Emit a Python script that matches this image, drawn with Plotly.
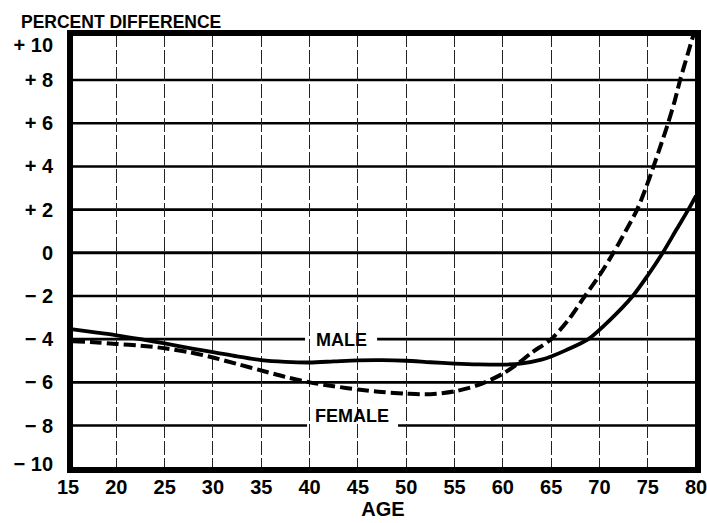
import plotly.graph_objects as go

# ---- data ----
age_male = [15.5, 18, 20, 22.5, 25, 28, 30, 32.5, 35, 37.5, 40, 42.5, 45, 47.5, 50,
            52.5, 55, 57.5, 60, 62, 64, 65, 66.5, 68.85, 71, 73.45, 75, 76.55, 78, 79.2, 80]
pct_male = [-3.55, -3.7, -3.82, -4.0, -4.2, -4.45, -4.6, -4.8, -4.97, -5.05, -5.08, -5.03,
            -4.98, -4.97, -5.0, -5.07, -5.13, -5.17, -5.18, -5.12, -4.95, -4.8, -4.52, -4.0,
            -3.15, -2.0, -1.05, 0.0, 1.1, 2.0, 2.65]

age_female = [15.5, 18, 20, 22.5, 25, 27.5, 30, 32.5, 35, 37.5, 40, 42.5, 45, 47.5, 50,
              52.5, 55, 57.5, 60, 61.5, 63, 65, 66.8, 68.5, 70, 71.45, 72.7, 73.9, 74.8,
              75.6, 76.4, 77.1, 77.8, 78.35, 79.2, 80]
pct_female = [-4.1, -4.15, -4.22, -4.3, -4.42, -4.6, -4.85, -5.15, -5.45, -5.75, -6.0, -6.18,
              -6.33, -6.45, -6.52, -6.55, -6.42, -6.12, -5.6, -5.15, -4.62, -4.0, -3.1, -2.0,
              -1.05, 0.0, 1.0, 2.0, 3.0, 4.0, 5.05, 6.0, 7.05, 8.0, 9.3, 10.5]

x_ticks = [15, 20, 25, 30, 35, 40, 45, 50, 55, 60, 65, 70, 75, 80]
y_ticks = [10, 8, 6, 4, 2, 0, -2, -4, -6, -8, -10]
y_tick_text = ["+ 10", "+ 8", "+ 6", "+ 4", "+ 2", "0", "\u2212 2", "\u2212 4", "\u2212 6", "\u2212 8", "\u2212 10"]
h_lines = [8, 6, 4, 2, 0, -2, -4, -6, -8]

labels = [("MALE", 43.3, -4.06, -4, 39.53, 46.99),
          ("FEMALE", 44.4, -7.54, -8, 39.74, 49.16)]

FONT = "Liberation Sans, Arial, sans-serif"
X_RANGE = [15.0, 80.2]
Y_RANGE = [-10.06, 10.18]

# the end labels (+10 / -10) sit slightly inside the frame in the original
label_nudge = {10: -0.37, -10: 0.2}
y_tick_pos = [v + label_nudge.get(v, 0) for v in y_ticks]

fig = go.Figure()
fig.add_trace(go.Scatter(x=age_male, y=pct_male, mode="lines",
                         line=dict(color="black", width=3.8, shape="spline", smoothing=0.8),
                         showlegend=False, hoverinfo="skip"))
fig.add_trace(go.Scatter(x=age_female, y=pct_female, mode="lines",
                         line=dict(color="black", width=4, dash="12px,5px", shape="spline", smoothing=0.8),
                         showlegend=False, hoverinfo="skip"))

shapes = []
gaps = {lv: (g0, g1) for (_, _, _, lv, g0, g1) in labels}
for yv in h_lines:
    w = 3 if yv == 0 else 2.6
    if yv in gaps:
        g0, g1 = gaps[yv]
        segs = [(X_RANGE[0], g0), (g1, X_RANGE[1])]
    else:
        segs = [(X_RANGE[0], X_RANGE[1])]
    for a, b in segs:
        shapes.append(dict(type="line", xref="x", yref="y", x0=a, x1=b, y0=yv, y1=yv,
                           line=dict(color="black", width=w), layer="below"))
# frame
shapes.append(dict(type="rect", xref="paper", yref="paper", x0=0.0032, x1=1.0, y0=0, y1=1,
                   line=dict(color="black", width=6), layer="above"))

annotations = []
for txt, ax, ay, _, _, _ in labels:
    annotations.append(dict(text=txt, x=ax, y=ay, xref="x", yref="y", showarrow=False,
                            font=dict(family=FONT, size=18, color="black", weight="bold")))
annotations.append(dict(text="PERCENT DIFFERENCE", xref="paper", yref="paper",
                        x=-0.078, y=1.026, xanchor="left", yanchor="middle", showarrow=False,
                        font=dict(family=FONT, size=17.5, color="black", weight="bold")))

fig.update_layout(
    width=707, height=523,
    margin=dict(l=68, r=9, t=33, b=53, autoexpand=False),
    paper_bgcolor="white", plot_bgcolor="white",
    shapes=shapes, annotations=annotations,
    xaxis=dict(range=X_RANGE, tickvals=x_ticks, showgrid=True, gridcolor="#222",
               gridwidth=1, griddash="14px,3px", zeroline=False, showline=False,
               ticks="", ticklabelstandoff=3, automargin=False, ticklabeloverflow="allow",
               tickfont=dict(family=FONT, size=20, color="black", weight="bold"),
               title=dict(text="AGE", standoff=0,
                          font=dict(family=FONT, size=20, color="black", weight="bold"))),
    yaxis=dict(range=Y_RANGE, tickvals=y_tick_pos, ticktext=y_tick_text, showgrid=False,
               zeroline=False, showline=False, ticks="", ticklabelstandoff=14,
               automargin=False, ticklabeloverflow="allow",
               tickfont=dict(family=FONT, size=20, color="black", weight="bold")),
)

fig.write_html("out.html", config={"displayModeBar": False, "staticPlot": True},
               post_script="document.body.style.margin='0';document.body.style.overflow='hidden';")
